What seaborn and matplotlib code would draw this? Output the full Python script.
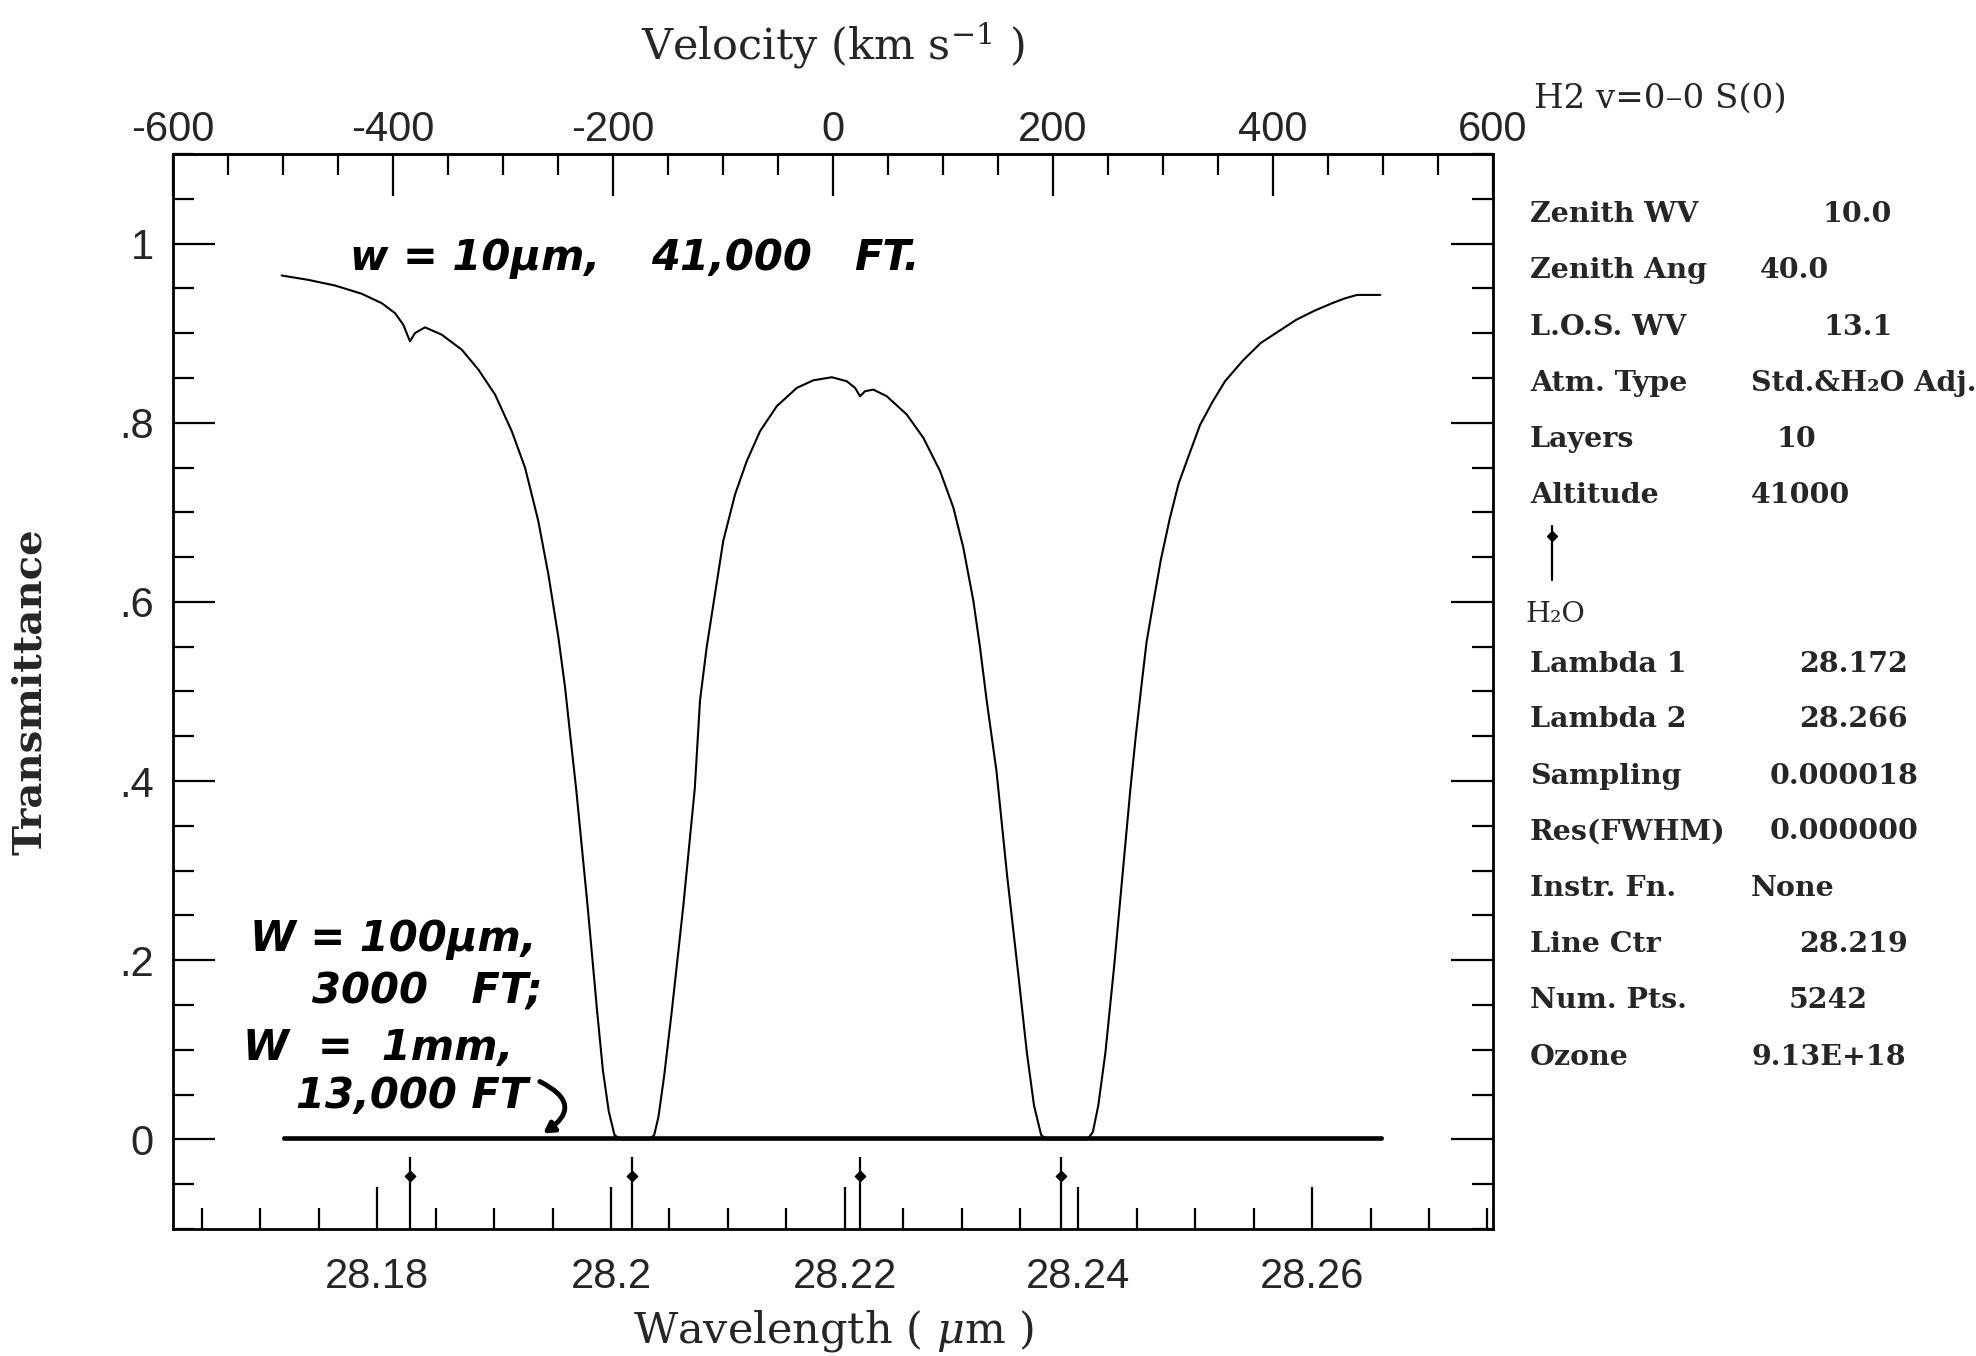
import numpy as np
import pandas as pd
import matplotlib
matplotlib.use("Agg")
import matplotlib.pyplot as plt
from matplotlib.ticker import MultipleLocator, FuncFormatter, FixedLocator
import seaborn as sns

# ---------------- data ----------------
lam_10um = [28.17182, 28.17410, 28.17638, 28.17867, 28.18038, 28.18152, 28.18223,
            28.18280, 28.18323, 28.18409, 28.18552, 28.18723, 28.18865, 28.19008,
            28.19151, 28.19265, 28.19378, 28.19464, 28.19550, 28.19607, 28.19650,
            28.19702, 28.19800, 28.19882, 28.19931, 28.19981, 28.20030, 28.20080,
            28.20330, 28.20370, 28.20406, 28.20455, 28.20520, 28.20619, 28.20717,
            28.20762, 28.20819, 28.20890, 28.20961, 28.21062, 28.21162, 28.21276,
            28.21419, 28.21590, 28.21732, 28.21890, 28.22018, 28.22089, 28.22131,
            28.22174, 28.22245, 28.22360, 28.22531, 28.22673, 28.22816, 28.22930,
            28.23015, 28.23101, 28.23158, 28.23215, 28.23299, 28.23391, 28.23482,
            28.23559, 28.23620, 28.23681, 28.23727, 28.24078, 28.24124, 28.24170,
            28.24231, 28.24307, 28.24353, 28.24399, 28.24445, 28.24491, 28.24536,
            28.24583, 28.24643, 28.24705, 28.24781, 28.24857, 28.24948, 28.25040,
            28.25148, 28.25255, 28.25407, 28.25560, 28.25713, 28.25866, 28.26019,
            28.26172, 28.26279, 28.26385, 28.26584]
trans_10um = [0.9644, 0.9595, 0.9532, 0.9440, 0.9335, 0.9224, 0.9094,
              0.8909, 0.9001, 0.9065, 0.8983, 0.8816, 0.8594, 0.8315,
              0.7906, 0.7498, 0.6904, 0.6310, 0.5605, 0.5048, 0.4529,
              0.3914, 0.2606, 0.1425, 0.0772, 0.0314, 0.0050, 0.0000,
              0.0000, 0.0050, 0.0250, 0.0706, 0.1425, 0.2606, 0.3914,
              0.4900, 0.5493, 0.6088, 0.6682, 0.7201, 0.7572, 0.7906,
              0.8185, 0.8389, 0.8474, 0.8508, 0.8463, 0.8389, 0.8296,
              0.8352, 0.8370, 0.8296, 0.8092, 0.7832, 0.7461, 0.7052,
              0.6607, 0.6013, 0.5493, 0.4900, 0.4110, 0.2932, 0.1884,
              0.0969, 0.0379, 0.0050, 0.0000, 0.0000, 0.0085, 0.0379,
              0.0969, 0.1950, 0.2606, 0.3260, 0.3914, 0.4503, 0.5027,
              0.5550, 0.6009, 0.6468, 0.6926, 0.7320, 0.7646, 0.7973,
              0.8235, 0.8464, 0.8694, 0.8890, 0.9021, 0.9151, 0.9250,
              0.9335, 0.9388, 0.9427, 0.9427]

lam_100um = [28.172, 28.266]
trans_100um = [0.002, 0.002]
lam_1mm = [28.172, 28.266]
trans_1mm = [0.0, 0.0]

line_positions = [28.1828, 28.2018, 28.2213, 28.2385]
line_marker_top = -0.02
line_marker_dot = -0.041

line_center = 28.219          # micron
c_kms = 299792.458
vel_limit = 600.0
vel_major_ticks = [-600, -400, -200, 0, 200, 400, 600]
vel_minor_ticks = list(range(-600, 601, 50))
wl_major_ticks = [28.18, 28.20, 28.22, 28.24, 28.26]
wl_tick_labels = ["28.18", "28.2", "28.22", "28.24", "28.26"]
t_major_ticks = [0.0, 0.2, 0.4, 0.6, 0.8, 1.0]
t_tick_labels = ["0", ".2", ".4", ".6", ".8", "1"]

panel_header = "H2 v=0\u20130 S(0)"
block1_labels = ["Zenith WV", "Zenith Ang", "L.O.S. WV", "Atm. Type", "Layers", "Altitude"]
block1_values = ["10.0", "40.0", "13.1", "Std.&H\u2082O Adj.", "10", "41000"]
block2_title = "H\u2082O"
block2_labels = ["Lambda 1", "Lambda 2", "Sampling", "Res(FWHM)", "Instr. Fn.",
                 "Line Ctr", "Num. Pts.", "Ozone"]
block2_values = ["28.172", "28.266", "0.000018", "0.000000", "None",
                 "28.219", "5242", "9.13E+18"]

# ---------------- styling ----------------
sns.set_style("white")
plt.rcParams["font.family"] = ["DejaVu Serif"]
plt.rcParams["mathtext.fontset"] = "dejavuserif"
SERIF = ["DejaVu Serif"]
NARROW = ["Liberation Sans Narrow", "Liberation Sans", "DejaVu Sans"]
HAND = ["DejaVu Sans"]

fig = plt.figure(figsize=(19.76, 13.56), dpi=100)
ax = fig.add_axes([0.08755, 0.09366, 0.66802, 0.79277])

df10 = pd.DataFrame({"lam": lam_10um, "T": trans_10um})
df100 = pd.DataFrame({"lam": lam_100um, "T": trans_100um})
df1mm = pd.DataFrame({"lam": lam_1mm, "T": trans_1mm})

sns.lineplot(data=df10, x="lam", y="T", ax=ax, color="black", lw=1.5,
             estimator=None, sort=False)
sns.lineplot(data=df100, x="lam", y="T", ax=ax, color="black", lw=2.6,
             estimator=None, sort=False)
sns.lineplot(data=df1mm, x="lam", y="T", ax=ax, color="black", lw=2.6,
             estimator=None, sort=False)

ymin, ymax = -0.1, 1.1
ax.vlines(line_positions, ymin, line_marker_top, color="black", lw=1.6)
ax.scatter(line_positions, [line_marker_dot] * len(line_positions), s=28,
           color="black", marker="D", zorder=3)

dl = line_center * vel_limit / c_kms
ax.set_xlim(line_center - dl, line_center + dl)
ax.set_ylim(ymin, ymax)

for sp in ax.spines.values():
    sp.set_linewidth(2.0)
    sp.set_color("black")

ax.set_xticks(wl_major_ticks)
ax.set_xticklabels(wl_tick_labels)
ax.xaxis.set_minor_locator(MultipleLocator(0.005))
ax.set_yticks(t_major_ticks)
ax.set_yticklabels(t_tick_labels)
ax.yaxis.set_minor_locator(MultipleLocator(0.05))

ax.tick_params(which="both", direction="in", bottom=True, left=True,
               top=False, right=True, width=1.6, color="black")
ax.tick_params(which="major", length=30)
ax.tick_params(which="minor", length=15)
ax.tick_params(axis="x", which="major", pad=20)
ax.tick_params(axis="y", which="major", pad=14)
for lab in ax.get_xticklabels() + ax.get_yticklabels():
    lab.set_family(NARROW)
    lab.set_fontsize(30)


def to_vel(lam):
    return (np.asarray(lam) - line_center) / line_center * c_kms


def to_lam(v):
    return line_center * (1 + np.asarray(v) / c_kms)


secax = ax.secondary_xaxis("top", functions=(to_vel, to_lam))
secax.xaxis.set_major_locator(FixedLocator(vel_major_ticks))
secax.xaxis.set_minor_locator(FixedLocator(vel_minor_ticks))
secax.xaxis.set_major_formatter(FuncFormatter(lambda v, p: f"{v:.0f}"))
secax.tick_params(which="both", direction="in", top=True, width=1.6, color="black")
secax.tick_params(which="major", length=30, pad=3)
secax.tick_params(which="minor", length=15)
secax.spines["top"].set_linewidth(2.0)
for lab in secax.get_xticklabels():
    lab.set_family(NARROW)
    lab.set_fontsize(30)

ax.set_xlabel("Wavelength ( $\\mu$m )", fontsize=31, family=SERIF, labelpad=8)
ax.set_ylabel("Transmittance", fontsize=29, family=SERIF, labelpad=50,
              fontweight="bold")
secax.set_xlabel("Velocity (km s$^{-1}$ )", fontsize=31, family=SERIF, labelpad=36)

# handwritten annotations
hand_kw = dict(family=HAND, fontweight="bold", fontstyle="oblique",
               fontsize=30, color="black", va="center", ha="left")
ax.text(28.17769, 0.984, "w = 10\u00b5m,", **hand_kw)
ax.text(28.20346, 0.984, "41,000", **hand_kw)
ax.text(28.22083, 0.984, "FT.", **hand_kw)
ax.text(28.16907, 0.224, "W = 100\u00b5m,", **hand_kw)
ax.text(28.17446, 0.165, "3000   FT;", **hand_kw)
ax.text(28.16851, 0.102, "W  =  1mm,", **hand_kw)
ax.text(28.17305, 0.049, "13,000 FT", **hand_kw)
ax.annotate("", xy=(28.19400, 0.005), xytext=(28.19370, 0.066),
            arrowprops=dict(arrowstyle="-|>,head_length=0.6,head_width=0.35",
                            lw=3.5, color="black",
                            connectionstyle="arc3,rad=-0.9"))

# right-hand panel
x_lab = 0.7743
FS = 20.5
fig.text(0.7765, 0.9275, panel_header, fontsize=24.5, family=SERIF, va="center",
         ha="left")
value_x1 = [0.9225, 0.8907, 0.9230, 0.8862, 0.8993, 0.8862]
rows1 = [0.842, 0.8002, 0.7584, 0.7175, 0.6757, 0.6348]
for lab, val, vx, y in zip(block1_labels, block1_values, value_x1, rows1):
    fig.text(x_lab, y, lab, fontsize=FS, family=SERIF, fontweight="bold",
             va="center", ha="left")
    fig.text(vx, y, val, fontsize=FS, family=SERIF, fontweight="bold",
             va="center", ha="left")

# little arrow under "Altitude"
fig.add_artist(plt.Line2D([0.7855, 0.7855], [0.572, 0.612], color="black",
                          lw=1.6, transform=fig.transFigure))
fig.add_artist(plt.Line2D([0.7855], [0.605], color="black", marker="D",
                          markersize=5, transform=fig.transFigure))

fig.text(0.7718, 0.5465, block2_title, fontsize=FS, family=SERIF,
         va="center", ha="left")
value_x2 = [0.9104, 0.9104, 0.8957, 0.8957, 0.8862, 0.9104, 0.9054, 0.8862]
rows2 = [0.5103, 0.4694, 0.4276, 0.3867, 0.3449, 0.3031, 0.2622, 0.2205]
for lab, val, vx, y in zip(block2_labels, block2_values, value_x2, rows2):
    fig.text(x_lab, y, lab, fontsize=FS, family=SERIF, fontweight="bold",
             va="center", ha="left")
    fig.text(vx, y, val, fontsize=FS, family=SERIF, fontweight="bold",
             va="center", ha="left")

fig.savefig("out.png", dpi=100, facecolor="white")
